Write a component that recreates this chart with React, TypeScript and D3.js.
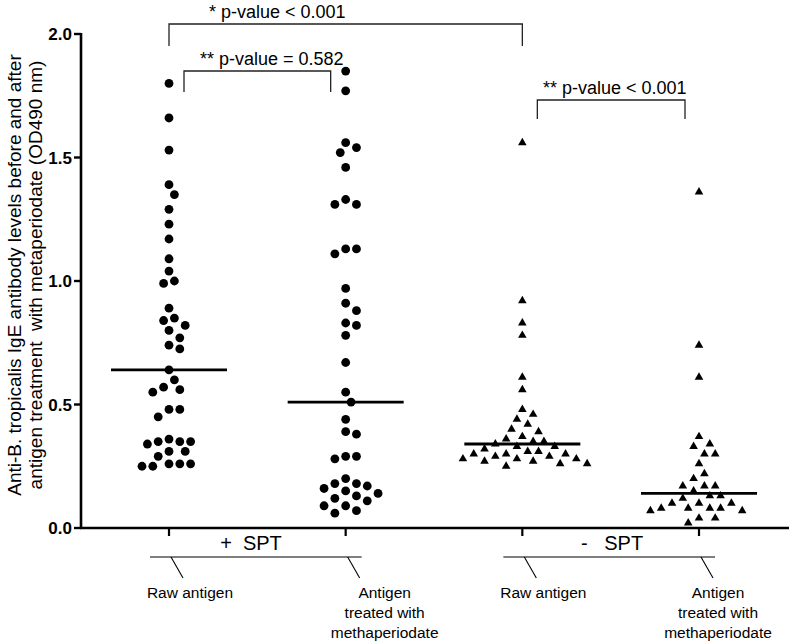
import React from "react";
import * as d3 from "d3";

// ---------- data ----------
const categories = ["Raw antigen", "Antigen treated with methaperiodate", "Raw antigen", "Antigen treated with methaperiodate"];
const categoryLabelLines = [
  ["Raw antigen"],
  ["Antigen", "treated with", "methaperiodate"],
  ["Raw antigen"],
  ["Antigen", "treated with", "methaperiodate"],
];
const groupLabels = ["+  SPT", "-   SPT"];
const yTicks = [0, 0.5, 1.0, 1.5, 2.0];
const yTickLabels = ["0.0", "0.5", "1.0", "1.5", "2.0"];

const posRaw = [1.80, 1.66, 1.53, 1.39, 1.35, 1.29, 1.23, 1.17, 1.09, 1.04, 1.00, 0.99, 0.89, 0.85, 0.84, 0.82, 0.80, 0.77, 0.74, 0.725, 0.64, 0.60, 0.57, 0.56, 0.55, 0.48, 0.48, 0.45, 0.36, 0.35, 0.35, 0.35, 0.34, 0.31, 0.31, 0.29, 0.26, 0.26, 0.25, 0.25, 0.26];
const posTreated = [1.85, 1.77, 1.56, 1.54, 1.52, 1.46, 1.33, 1.31, 1.31, 1.13, 1.13, 1.11, 0.97, 0.91, 0.88, 0.83, 0.82, 0.78, 0.67, 0.55, 0.51, 0.44, 0.38, 0.39, 0.29, 0.28, 0.29, 0.20, 0.18, 0.16, 0.17, 0.18, 0.14, 0.15, 0.12, 0.13, 0.11, 0.09, 0.09, 0.06, 0.07];
const negRaw = [1.56, 0.92, 0.83, 0.78, 0.61, 0.56, 0.48, 0.46, 0.44, 0.42, 0.40, 0.39, 0.37, 0.36, 0.35, 0.35, 0.34, 0.33, 0.33, 0.32, 0.31, 0.31, 0.30, 0.30, 0.30, 0.29, 0.29, 0.28, 0.28, 0.28, 0.27, 0.27, 0.26, 0.26, 0.25];
const negTreated = [1.36, 0.74, 0.61, 0.37, 0.34, 0.33, 0.30, 0.30, 0.26, 0.22, 0.20, 0.17, 0.17, 0.13, 0.12, 0.13, 0.15, 0.17, 0.10, 0.10, 0.08, 0.08, 0.07, 0.07, 0.08, 0.08, 0.10, 0.04, 0.04, 0.02];
const seriesValues = [posRaw, posTreated, negRaw, negTreated];
const means = [0.64, 0.51, 0.34, 0.14];

const comparisonLabels = ["* p-value < 0.001", "** p-value = 0.582", "** p-value < 0.001"];
const comparisonPairs = [[0, 2], [0, 1], [2, 3]];

// ---------- layout ----------
const W = 789;
const H = 644;
const AXIS_X = 81;
const FONT = "'Liberation Sans', Arial, Helvetica, sans-serif";

function swarm(vals: number[], y: (v: number) => number, step: number, minD: number) {
  const placed: { x: number; y: number }[] = [];
  const out: { dx: number; y: number }[] = new Array(vals.length);
  const order = d3.range(vals.length).sort((a, b) => d3.descending(vals[a], vals[b]));
  for (const i of order) {
    const py = y(vals[i]);
    for (let k = 0; k < 60; k++) {
      const off = k === 0 ? 0 : (k % 2 ? 1 : -1) * Math.ceil(k / 2) * step;
      if (placed.every((p) => Math.hypot(p.x - off, p.y - py) >= minD)) {
        placed.push({ x: off, y: py });
        out[i] = { dx: off, y: py };
        break;
      }
    }
  }
  return out;
}

export default function App() {
  const y = d3.scaleLinear().domain([0, 2]).range([528, 34]);
  const x = d3.scalePoint<number>().domain(d3.range(categories.length)).range([169, 699]);
  const tri = d3.symbol().type(d3.symbolTriangle).size(32)()!;

  const brackets = [
    { top: 24, bottom: 46, inset: [0, 0], textX: 209 },
    { top: 71, bottom: 92, inset: [15, 15], textX: 200 },
    { top: 100, bottom: 119, inset: [15, 14], textX: 543 },
  ];
  const labelOffsets = [21, 39, 21, 19];
  const groupLabelX = [251, 612];

  return (
    <svg width={W} height={H} style={{ position: "absolute", left: 0, top: 0, background: "#fff" }} fontFamily={FONT}>
      <rect width={W} height={H} fill="#fff" />
      {/* y axis title */}
      <g transform={`translate(0, 275) rotate(-90)`}>
        <text x={0} y={21} textAnchor="middle" fontSize={19} fill="#000">Anti-B. tropicalis IgE antibody levels before and after</text>
        <text x={0} y={42} textAnchor="middle" fontSize={19} fill="#000" style={{ whiteSpace: "pre" }}>antigen treatment  with metaperiodate (OD490 nm)</text>
      </g>
      {/* y axis */}
      <line x1={AXIS_X} x2={AXIS_X} y1={y(0)} y2={y(2) - 1} stroke="#000" strokeWidth={2.6} />
      {yTicks.map((t, i) => (
        <g key={t}>
          <line x1={AXIS_X - 7} x2={AXIS_X} y1={y(t)} y2={y(t)} stroke="#000" strokeWidth={2.4} />
          <text x={AXIS_X - 9} y={y(t)} dy="0.36em" textAnchor="end" fontSize={17} fontWeight="bold" fill="#000">{yTickLabels[i]}</text>
        </g>
      ))}
      {/* x axis */}
      <line x1={AXIS_X - 1} x2={W} y1={y(0)} y2={y(0)} stroke="#000" strokeWidth={2.6} />
      {categories.map((c, i) => (
        <line key={i} x1={x(i)!} x2={x(i)!} y1={y(0)} y2={y(0) + 8} stroke="#000" strokeWidth={2.2} />
      ))}
      {/* group labels */}
      {groupLabels.map((g, gi) => {
        const a = x(gi * 2)!;
        const b = x(gi * 2 + 1)!;
        return (
          <g key={g}>
            <text x={groupLabelX[gi]} y={550} textAnchor="middle" fontSize={20} fill="#000" style={{ whiteSpace: "pre" }}>{g}</text>
            <line x1={a - 19} x2={b + 16} y1={557} y2={557} stroke="#000" strokeWidth={1.2} />
          </g>
        );
      })}
      {categories.map((c, i) => (
        <g key={"cl" + i}>
          <line x1={x(i)! + 2} x2={x(i)! + 14} y1={557} y2={578} stroke="#000" strokeWidth={1.1} />
          {categoryLabelLines[i].map((l, li) => (
            <text key={li} x={x(i)! + labelOffsets[i]} y={598 + li * 20} textAnchor="middle" fontSize={15.5} fill="#000">{l}</text>
          ))}
        </g>
      ))}
      {/* points */}
      {seriesValues.map((vals, si) => {
        const pts = swarm(vals, y, 5.4, 10.6);
        return (
          <g key={si}>
            {pts.map((p, pi) =>
              si < 2 ? (
                <circle key={pi} cx={x(si)! + p.dx} cy={p.y} r={4.4} fill="#000" />
              ) : (
                <path key={pi} d={tri} transform={`translate(${x(si)! + p.dx},${p.y})`} fill="#000" />
              )
            )}
            <line x1={x(si)! - 58} x2={x(si)! + 58} y1={y(means[si])} y2={y(means[si])} stroke="#000" strokeWidth={2.8} />
          </g>
        );
      })}
      {/* comparison brackets */}
      {comparisonPairs.map(([a, b], i) => {
        const br = brackets[i];
        const x1 = x(a)! + br.inset[0];
        const x2 = x(b)! - br.inset[1];
        return (
          <g key={i}>
            <path d={`M${x1},${br.bottom}V${br.top}H${x2}V${br.bottom}`} fill="none" stroke="#222" strokeWidth={1.3} />
            <text x={br.textX} y={br.top - 6} fontSize={18} fill="#000">{comparisonLabels[i]}</text>
          </g>
        );
      })}
    </svg>
  );
}
